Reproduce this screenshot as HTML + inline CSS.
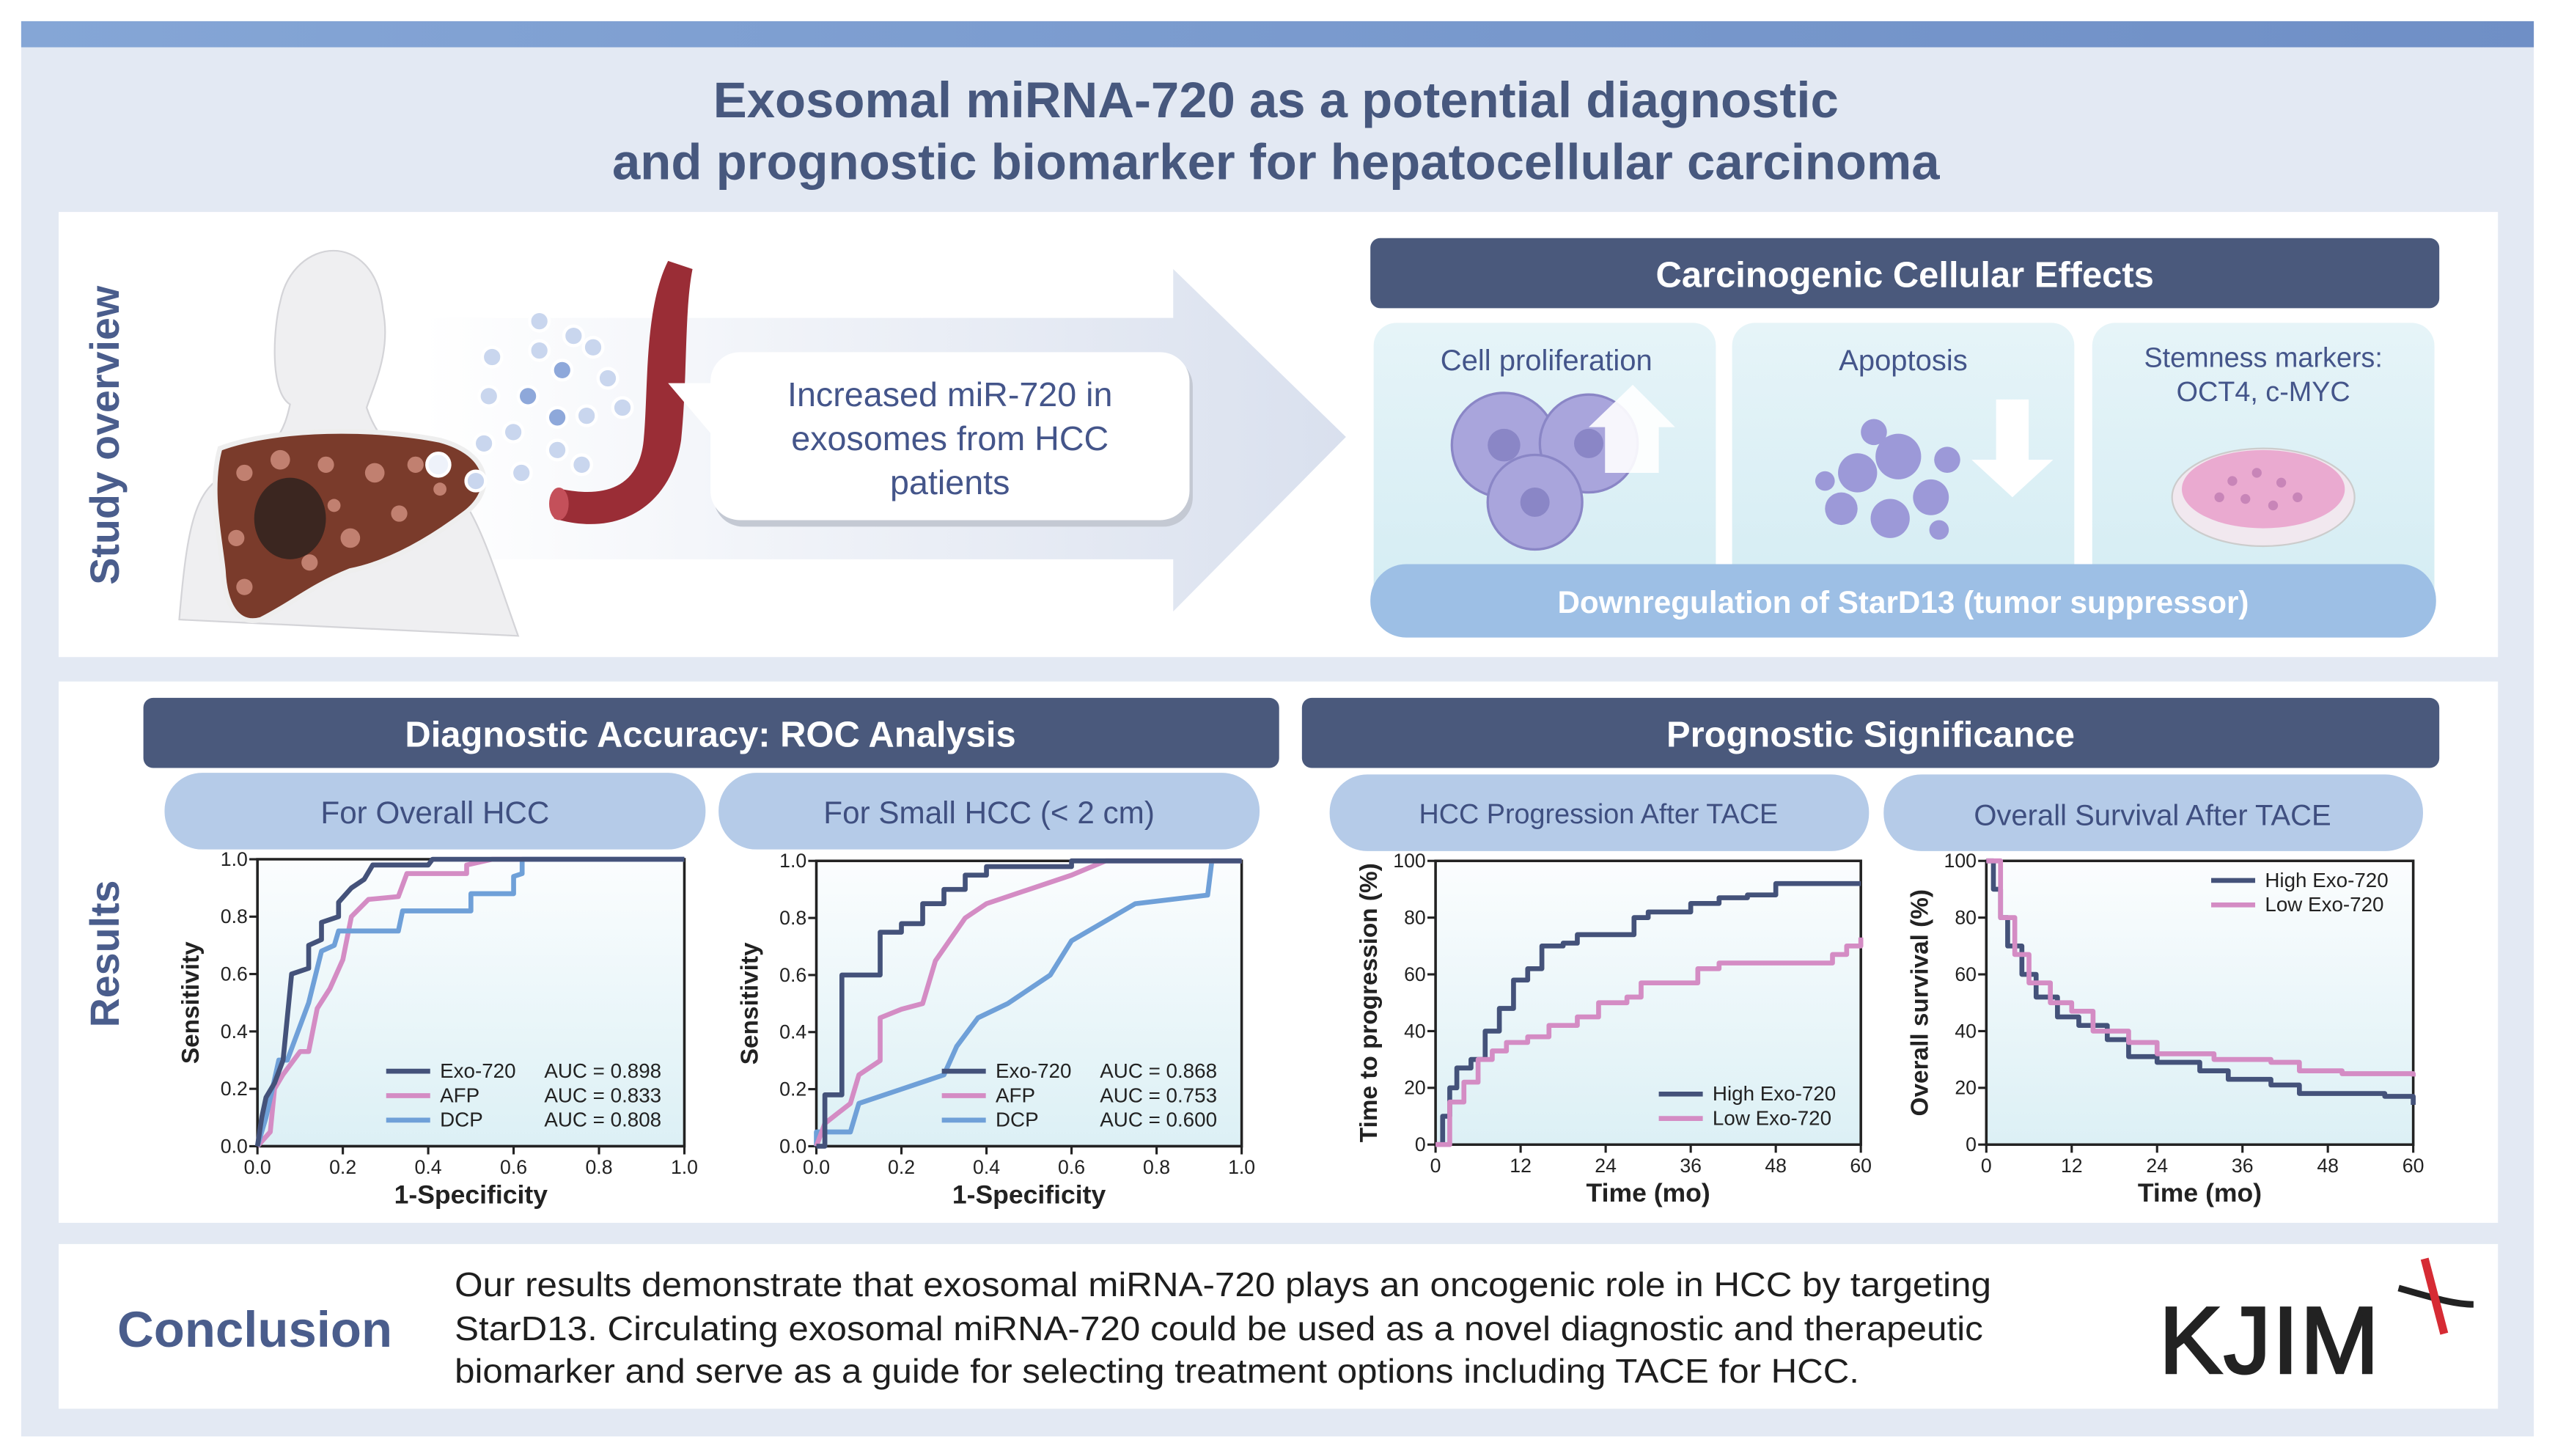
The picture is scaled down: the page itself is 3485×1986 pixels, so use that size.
<!DOCTYPE html>
<html><head><meta charset="utf-8"><style>
html,body{margin:0;padding:0;background:#fff;width:3485px;height:1986px;overflow:hidden}
svg{display:block}
text{font-family:"Liberation Sans",sans-serif}
</style></head><body>
<svg id="s" width="3485" height="1986" viewBox="0 0 1568 893" preserveAspectRatio="none" xmlns="http://www.w3.org/2000/svg">
<defs>
<linearGradient id="tb" x1="0" x2="1"><stop offset="0" stop-color="#85a6d6"/><stop offset="1" stop-color="#6f8fc6"/></linearGradient>
<linearGradient id="ar" x1="0" x2="1"><stop offset="0" stop-color="#ffffff"/><stop offset="1" stop-color="#d9e0ee"/></linearGradient>
<linearGradient id="pl" x1="0" y1="0" x2="0" y2="1"><stop offset="0" stop-color="#fbfdfe"/><stop offset="1" stop-color="#dcf0f5"/></linearGradient>
<linearGradient id="cb" x1="0" y1="0" x2="0" y2="1"><stop offset="0" stop-color="#e6f4f8"/><stop offset="1" stop-color="#d3ecf3"/></linearGradient>
</defs>
<rect width="1568" height="893" fill="#fff"/>
<rect x="13" y="13" width="1542" height="868" fill="#e3e9f3"/>
<rect x="13" y="13" width="1542" height="16" fill="url(#tb)"/>
<text x="783" y="72" text-anchor="middle" font-size="31" font-weight="bold" fill="#47587e">Exosomal miRNA-720 as a potential diagnostic</text>
<text x="783" y="110" text-anchor="middle" font-size="31" font-weight="bold" fill="#47587e">and prognostic biomarker for hepatocellular carcinoma</text>

<rect x="36" y="130" width="1497" height="273" fill="#fff"/>
<rect x="36" y="418" width="1497" height="332" fill="#fff"/>
<rect x="36" y="763" width="1497" height="101" fill="#fff"/>

<text transform="translate(73,267) rotate(-90)" text-anchor="middle" font-size="25" font-weight="bold" fill="#4a5d8c">Study overview</text>
<text transform="translate(73,585) rotate(-90)" text-anchor="middle" font-size="25" font-weight="bold" fill="#4a5d8c">Results</text>

<polygon points="260,195 720,195 720,165 826,268 720,375 720,343 260,343" fill="url(#ar)"/>
<g fill="#efeff1" stroke="#d4d4d8" stroke-width="1">
<path d="M110,380 C115,320 120,300 140,290 C170,278 175,262 178,248 C165,240 168,200 172,185 C180,145 230,140 235,190 C240,215 230,235 225,250 C230,265 240,280 265,290 C290,300 300,340 318,390 Z"/>
</g>
<path d="M135,275 C170,262 230,262 270,270 C300,278 305,300 285,315 C265,330 240,345 215,350 C190,360 180,370 160,380 C145,384 138,370 137,350 C135,330 128,300 135,275 Z" fill="#7a3b2b" stroke="#eee" stroke-width="3"/>
<g fill="#c18070">
<circle cx="150" cy="290" r="5"/><circle cx="172" cy="282" r="6"/><circle cx="200" cy="285" r="5"/><circle cx="230" cy="290" r="6"/><circle cx="255" cy="285" r="5"/><circle cx="145" cy="330" r="5"/><circle cx="150" cy="360" r="5"/><circle cx="190" cy="345" r="5"/><circle cx="215" cy="330" r="6"/><circle cx="245" cy="315" r="5"/><circle cx="270" cy="300" r="4"/><circle cx="165" cy="310" r="4"/><circle cx="205" cy="310" r="4"/>
</g>
<ellipse cx="178" cy="318" rx="22" ry="25" fill="#3b2620"/>
<path d="M410,160 C395,190 398,240 395,270 C392,300 370,305 345,300 L340,318 C380,330 412,310 418,270 C422,230 420,190 425,165 Z" fill="#9a2d36"/>
<ellipse cx="343" cy="309" rx="6" ry="10" fill="#c4505a"/>
<g fill="#c9d6ee" stroke="#fff" stroke-width="2">
<circle cx="331" cy="197" r="6"/><circle cx="302" cy="219" r="6"/><circle cx="331" cy="215" r="6"/><circle cx="352" cy="206" r="6"/><circle cx="364" cy="213" r="6"/><circle cx="300" cy="243" r="6"/><circle cx="324" cy="243" r="6" fill="#8ea8da"/><circle cx="345" cy="227" r="6" fill="#8ea8da"/><circle cx="373" cy="232" r="6"/><circle cx="360" cy="255" r="6"/><circle cx="382" cy="250" r="6"/><circle cx="342" cy="256" r="6" fill="#8ea8da"/><circle cx="315" cy="265" r="6"/><circle cx="297" cy="272" r="6"/><circle cx="342" cy="276" r="6"/><circle cx="320" cy="290" r="6"/><circle cx="292" cy="295" r="6"/><circle cx="269" cy="285" r="7" fill="#eef2fa"/><circle cx="357" cy="285" r="6"/>
</g>
<rect x="438" y="219" width="294" height="104" rx="18" fill="#c4c9d3"/>
<path d="M438,235 L410,235 L438,268 Z" fill="#fff"/>
<rect x="436" y="216" width="294" height="103" rx="18" fill="#fff"/>
<g font-size="21" fill="#44558a" text-anchor="middle"><text x="583" y="249">Increased miR-720 in</text><text x="583" y="276">exosomes from HCC</text><text x="583" y="303">patients</text></g>

<rect x="841" y="146" width="656" height="43" rx="6" fill="#4a597c"/>
<text x="1169" y="176" text-anchor="middle" font-size="22" font-weight="bold" fill="#fff">Carcinogenic Cellular Effects</text>
<rect x="843" y="198" width="210" height="185" rx="14" fill="url(#cb)"/>
<rect x="1063" y="198" width="210" height="185" rx="14" fill="url(#cb)"/>
<rect x="1284" y="198" width="210" height="185" rx="14" fill="url(#cb)"/>
<g font-size="18" fill="#44558a" text-anchor="middle"><text x="949" y="227">Cell proliferation</text><text x="1168" y="227">Apoptosis</text><text x="1389" y="225" font-size="17">Stemness markers:</text><text x="1389" y="246" font-size="17">OCT4, c-MYC</text></g>
<g fill="#a9a5dc" stroke="#8a86c6" stroke-width="1.5">
<circle cx="923" cy="273" r="32"/><circle cx="975" cy="272" r="30"/><circle cx="942" cy="308" r="29"/>
</g>
<g fill="#8a86c6"><circle cx="923" cy="273" r="10"/><circle cx="975" cy="272" r="9"/><circle cx="942" cy="308" r="9"/></g>
<polygon points="985,290 985,262 975,262 1002,236 1028,262 1018,262 1018,290" fill="#fff" opacity="0.9"/>
<g fill="#9c99d8"><circle cx="1140" cy="290" r="12"/><circle cx="1165" cy="280" r="14"/><circle cx="1185" cy="305" r="11"/><circle cx="1130" cy="312" r="10"/><circle cx="1160" cy="318" r="12"/><circle cx="1195" cy="282" r="8"/><circle cx="1150" cy="265" r="8"/><circle cx="1120" cy="295" r="6"/><circle cx="1190" cy="325" r="6"/></g>
<polygon points="1225,245 1245,245 1245,282 1260,282 1235,305 1210,282 1225,282" fill="#fff"/>
<ellipse cx="1389" cy="305" rx="56" ry="30" fill="#f1e8ef" stroke="#ccc"/>
<ellipse cx="1389" cy="300" rx="50" ry="24" fill="#eaaad0"/>
<g fill="#c885b8"><circle cx="1370" cy="295" r="3"/><circle cx="1385" cy="290" r="3"/><circle cx="1400" cy="296" r="3"/><circle cx="1410" cy="305" r="3"/><circle cx="1378" cy="306" r="3"/><circle cx="1395" cy="310" r="3"/><circle cx="1362" cy="305" r="3"/></g>
<rect x="841" y="346" width="654" height="45" rx="22" fill="#9dbfe5"/>
<text x="1168" y="376" text-anchor="middle" font-size="19" font-weight="bold" fill="#fff">Downregulation of StarD13 (tumor suppressor)</text>

<rect x="88" y="428" width="697" height="43" rx="6" fill="#4a597c"/>
<text x="436" y="458" text-anchor="middle" font-size="22" font-weight="bold" fill="#fff">Diagnostic Accuracy: ROC Analysis</text>
<rect x="799" y="428" width="698" height="43" rx="6" fill="#4a597c"/>
<text x="1148" y="458" text-anchor="middle" font-size="22" font-weight="bold" fill="#fff">Prognostic Significance</text>
<g fill="#b5cbe8"><rect x="101" y="474" width="332" height="47" rx="23"/><rect x="441" y="474" width="332" height="47" rx="23"/><rect x="816" y="475" width="331" height="47" rx="23"/><rect x="1156" y="475" width="331" height="47" rx="23"/></g>
<g font-size="19" fill="#3f4f80" text-anchor="middle"><text x="267" y="505">For Overall HCC</text><text x="607" y="505">For Small HCC (&lt; 2 cm)</text><text x="981" y="505" font-size="17">HCC Progression After TACE</text><text x="1321" y="506" font-size="18">Overall Survival After TACE</text></g>

<g id="plots"></g>

<text x="72" y="826" font-size="31" font-weight="bold" fill="#4a5d8c">Conclusion</text>
<g font-size="21" fill="#1e1e1e"><text x="279" y="795" textLength="943" lengthAdjust="spacingAndGlyphs">Our results demonstrate that exosomal miRNA-720 plays an oncogenic role in HCC by targeting</text><text x="279" y="822" textLength="938" lengthAdjust="spacingAndGlyphs">StarD13. Circulating exosomal miRNA-720 could be used as a novel diagnostic and therapeutic</text><text x="279" y="848" textLength="862" lengthAdjust="spacingAndGlyphs">biomarker and serve as a guide for selecting treatment options including TACE for HCC.</text></g>
<text x="1325" y="842" font-size="58" fill="#222" stroke="#222" stroke-width="1.5" textLength="135">KJIM</text>
<path d="M1472,790 C1490,795 1505,800 1518,800" stroke="#222" stroke-width="4" fill="none"/>
<path d="M1488,772 L1500,818" stroke="#d62b34" stroke-width="5"/>
</svg>
<script>
var g=document.getElementById('plots'),h='';
var D='#44527a',P='#d48cc4',B='#6fa0d8';
function axes(x0,y0,x1,y1,xt,yt,xl,yl){
 h+='<rect x="'+x0+'" y="'+y0+'" width="'+(x1-x0)+'" height="'+(y1-y0)+'" fill="url(#pl)"/>';
 h+='<path d="M'+x0+','+y0+' H'+x1+' V'+y1+' H'+x0+' Z" fill="none" stroke="#222" stroke-width="1.6"/>';
 for(var i=0;i<xt.length;i++){var x=x0+(x1-x0)*i/(xt.length-1);h+='<line x1="'+x+'" y1="'+y1+'" x2="'+x+'" y2="'+(y1+5)+'" stroke="#222" stroke-width="1.4"/><text x="'+x+'" y="'+(y1+17)+'" text-anchor="middle" font-size="12" fill="#222">'+xt[i]+'</text>';}
 for(var i=0;i<yt.length;i++){var y=y1-(y1-y0)*i/(yt.length-1);h+='<line x1="'+(x0-5)+'" y1="'+y+'" x2="'+x0+'" y2="'+y+'" stroke="#222" stroke-width="1.4"/><text x="'+(x0-6)+'" y="'+(y+4)+'" text-anchor="end" font-size="12" fill="#222">'+yt[i]+'</text>';}
 h+='<text x="'+((x0+x1)/2)+'" y="'+(y1+35)+'" text-anchor="middle" font-size="16" font-weight="bold" fill="#222">'+xl+'</text>';
 h+='<text transform="translate('+(x0-36)+','+((y0+y1)/2)+') rotate(-90)" text-anchor="middle" font-size="15" font-weight="bold" fill="#222">'+yl+'</text>';
}
function line(pts,fx,fy,c,step){var d='';for(var i=0;i<pts.length;i++){var x=fx(pts[i][0]),y=fy(pts[i][1]);if(i==0)d='M'+x+','+y;else if(step)d+=' H'+x+' V'+y;else d+=' L'+x+','+y;}
 h+='<path d="'+d+'" fill="none" stroke="'+c+'" stroke-width="3" stroke-linejoin="round"/>';}
var rx=['0.0','0.2','0.4','0.6','0.8','1.0'];
axes(158,527,420,703,rx,rx,'1-Specificity','Sensitivity');
axes(501,528,762,703,rx,rx,'1-Specificity','Sensitivity');
var km=['0','12','24','36','48','60'],ky=['0','20','40','60','80','100'];
axes(881,528,1142,702,km,ky,'Time (mo)','Time to progression (%)');
axes(1219,528,1481,702,km,ky,'Time (mo)','Overall survival (%)');
function R(x0,x1,y0,y1){return [function(v){return x0+v*(x1-x0)},function(v){return y1-v*(y1-y0)}];}
var f=R(158,420,527,703);
line([[0,0],[0.03,0.05],[0.04,0.2],[0.06,0.25],[0.1,0.33],[0.12,0.33],[0.14,0.48],[0.17,0.55],[0.2,0.65],[0.22,0.8],[0.26,0.86],[0.33,0.87],[0.35,0.95],[0.49,0.95],[0.49,0.98],[0.55,1],[1,1]],f[0],f[1],P,false);
line([[0,0],[0.02,0.1],[0.05,0.3],[0.07,0.3],[0.12,0.5],[0.15,0.68],[0.18,0.7],[0.19,0.75],[0.33,0.75],[0.34,0.82],[0.5,0.82],[0.5,0.88],[0.6,0.88],[0.6,0.94],[0.62,0.95],[0.62,1],[1,1]],f[0],f[1],B,false);
line([[0,0],[0.01,0.1],[0.02,0.17],[0.04,0.22],[0.06,0.3],[0.07,0.45],[0.08,0.6],[0.12,0.62],[0.12,0.7],[0.15,0.72],[0.15,0.78],[0.19,0.8],[0.19,0.85],[0.22,0.9],[0.25,0.93],[0.27,0.98],[0.4,0.98],[0.41,1],[1,1]],f[0],f[1],D,false);
f=R(501,762,528,703);
line([[0,0],[0,0.05],[0.08,0.05],[0.1,0.15],[0.2,0.2],[0.3,0.25],[0.33,0.35],[0.38,0.45],[0.45,0.5],[0.5,0.55],[0.55,0.6],[0.6,0.72],[0.75,0.85],[0.92,0.88],[0.93,1],[1,1]],f[0],f[1],B,false);
line([[0,0],[0.02,0.08],[0.08,0.15],[0.1,0.25],[0.15,0.3],[0.15,0.45],[0.2,0.48],[0.25,0.5],[0.28,0.65],[0.35,0.8],[0.4,0.85],[0.5,0.9],[0.6,0.95],[0.68,1],[1,1]],f[0],f[1],P,false);
line([[0,0],[0.02,0.18],[0.06,0.2],[0.06,0.6],[0.15,0.6],[0.15,0.75],[0.2,0.78],[0.25,0.85],[0.3,0.9],[0.35,0.95],[0.4,0.98],[0.6,1],[1,1]],f[0],f[1],D,true);
function K(x0,x1,y0,y1){return [function(t){return x0+t/60*(x1-x0)},function(p){return y1-p/100*(y1-y0)}];}
f=K(881,1142,528,702);
line([[0,0],[1,10],[2,20],[3,27],[5,30],[7,40],[9,48],[11,58],[13,62],[15,70],[18,71],[20,74],[27,74],[28,80],[30,82],[36,85],[40,87],[44,88],[48,92],[60,92]],f[0],f[1],D,true);
line([[0,0],[2,15],[4,22],[6,30],[8,33],[10,36],[13,38],[16,42],[20,45],[23,50],[27,52],[29,57],[37,62],[40,64],[54,64],[56,67],[58,70],[60,73]],f[0],f[1],P,true);
f=K(1219,1481,528,702);
line([[0,100],[1,90],[2,80],[3,70],[5,60],[7,52],[10,45],[13,42],[17,37],[20,31],[24,29],[30,26],[34,23],[40,21],[44,18],[56,17],[60,14]],f[0],f[1],D,true);
line([[0,100],[2,80],[4,67],[6,57],[9,50],[12,47],[15,40],[20,36],[24,32],[32,30],[40,29],[44,26],[50,25],[60,24]],f[0],f[1],P,true);
function leg(x,y,items,fs){for(var i=0;i<items.length;i++){var yy=y+i*15;h+='<line x1="'+x+'" y1="'+(yy-4)+'" x2="'+(x+27)+'" y2="'+(yy-4)+'" stroke="'+items[i][0]+'" stroke-width="3"/><text x="'+(x+33)+'" y="'+yy+'" font-size="'+fs+'" fill="#222">'+items[i][1]+'</text>';if(items[i][2])h+='<text x="'+(x+97)+'" y="'+yy+'" font-size="'+fs+'" fill="#222">'+items[i][2]+'</text>';}}
leg(237,661,[[D,'Exo-720','AUC = 0.898'],[P,'AFP','AUC = 0.833'],[B,'DCP','AUC = 0.808']],12.5);
leg(578,661,[[D,'Exo-720','AUC = 0.868'],[P,'AFP','AUC = 0.753'],[B,'DCP','AUC = 0.600']],12.5);
leg(1018,675,[[D,'High Exo-720'],[P,'Low Exo-720']],12.5);
leg(1357,544,[[D,'High Exo-720'],[P,'Low Exo-720']],12.5);
g.innerHTML=h;
</script>
</body></html>
